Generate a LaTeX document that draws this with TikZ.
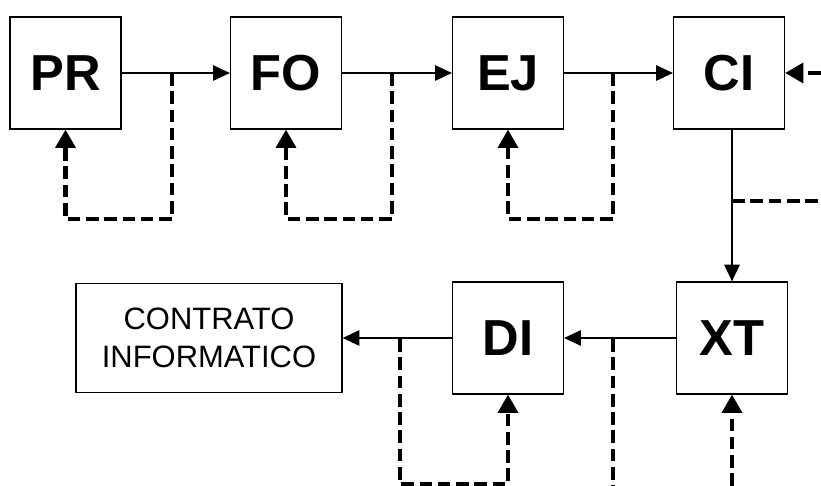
\documentclass[tikz,border=0pt]{standalone}
\usepackage{fontspec}
\setmainfont{Liberation Sans}
\usepackage{tikz}
\usetikzlibrary{arrows.meta, positioning}

\begin{document}
\begin{tikzpicture}[
        x=0.025cm, y=-0.025cm,
        etapa/.style={draw, line width=0.8pt, minimum width=2.775cm,
                      minimum height=2.8cm, inner sep=0pt,
                      font=\fontsize{36}{38}\selectfont\bfseries},
        final/.style={draw, line width=0.8pt, minimum width=6.65cm,
                      minimum height=2.725cm, align=center,
                      font=\fontsize{22}{27}\selectfont},
        flujo/.style={-{Triangle[length=12pt, width=11pt]}, line width=1.1pt},
        retro/.style={-{Triangle[length=13pt, width=14pt]}, line width=3pt,
                      dash pattern=on 9pt off 4pt},
        linea/.style={line width=3pt, dash pattern=on 9pt off 4pt},
      ]
        \useasboundingbox (0,0) rectangle (821,486);

        % upper row
        \node[etapa] (pr) at (65.5,73)  {PR};
        \node[etapa] (fo) at (286,73)   {FO};
        \node[etapa] (ej) at (508,73)   {EJ};
        \node[etapa] (ci) at (729,73)   {CI};

        % lower row
        \node[etapa] (xt) at (732,338)  {XT};
        \node[etapa] (di) at (508,338)  {DI};
        \node[final] (ct) at (209,338)  {CONTRATO\\INFORMATICO};

        % branch points of the dashed returns
        \coordinate (b1) at (172,73);
        \coordinate (b2) at (392,73);
        \coordinate (b3) at (613,73);
        \coordinate (b4) at (732,201);
        \coordinate (b5) at (613,339);
        \coordinate (b6) at (400,339);

        % main flow
        \draw[flujo] (pr) -- (fo);
        \draw[flujo] (fo) -- (ej);
        \draw[flujo] (ej) -- (ci);
        \draw[flujo] (ci.south -| b4) -- (xt.north -| b4);
        \draw[flujo] (xt) -- (di);
        \draw[flujo] (di) -- (ct);

        % dashed returns
        \draw[retro] (b1) |- (65.5,219) -- (pr.south);
        \draw[retro] (b2) |- (286,219) -- (fo.south);
        \draw[retro] (b3) |- (508,219) -- (ej.south);
        \draw[retro] (b6) |- (508,484) -- (di.south);

        % dashed lines leaving the sheet
        \draw[retro] (821,73) -- (ci.east);
        \draw[linea] (b4) -- (821,201);
        \draw[linea] (b5) -- (613,486);
        \draw[retro] (732,486) -- (xt.south);
      \end{tikzpicture}
\end{document}
